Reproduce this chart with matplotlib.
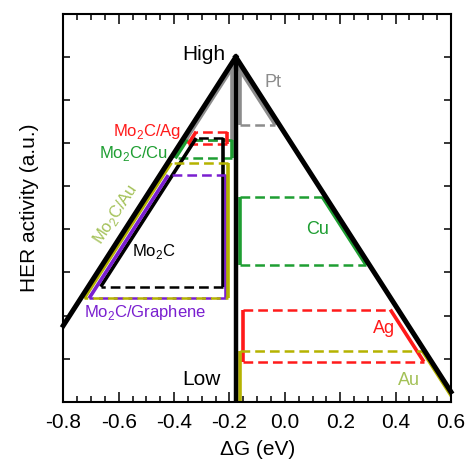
import matplotlib
matplotlib.use('Agg')
import matplotlib.pyplot as plt
import numpy as np

plt.rcParams['font.family'] = ['Liberation Sans', 'DejaVu Sans']
plt.rcParams['mathtext.fontset'] = 'custom'
plt.rcParams['mathtext.rm'] = 'Liberation Sans'
plt.rcParams['lines.scale_dashes'] = False

# volcano apex and slope
peak_x = -0.177
peak_y = 8.0
slope = 10.0

# regions: vertical boundary, activity range, which flank of the volcano, inset from the big line
region_names = ['Pt_left', 'Pt', 'Mo2C/Cu', 'Mo2C/Ag', 'Mo2C', 'Mo2C/Graphene', 'Mo2C/Au',
                'Cu', 'Ag', 'Au']
region_xv = [-0.192, -0.162, -0.192, -0.208, -0.222, -0.214, -0.204, -0.162, -0.150, -0.162]
region_ylo = [6.07, 6.42, 5.65, 5.98, 2.67, 2.40, 2.40, 3.17, 0.93, 0.0]
region_yhi = [7.9, 7.85, 6.08, 6.27, 6.12, 5.26, 5.55, 4.76, 2.14, 1.18]
region_side = [-1, 1, -1, -1, -1, -1, -1, 1, 1, 1]
region_inset = [0.012, 0.015, 0.016, 0.030, 0.045, 0.030, 0.012, 0.012, 0.028, 0.008]
region_color = ['#8c8c8c', '#8c8c8c', '#1e9e32', '#ff1a1a', '#000000', '#7a1fd0', '#b5b300',
                '#1e9e32', '#ff1a1a', '#b5b300']


def flank_x(y, side, inset):
    return peak_x + side * ((peak_y - y) / slope - inset)


fig = plt.figure(figsize=(4.69, 4.65), dpi=100)
ax = fig.add_axes([0.135, 0.136, 0.8265, 0.834])

dash = (7, 3.6)
for name, xv, ylo, yhi, side, ins, c in zip(region_names, region_xv, region_ylo, region_yhi,
                                             region_side, region_inset, region_color):
    xs_hi = flank_x(yhi, side, ins)
    xs_lo = flank_x(ylo, side, ins)
    # solid edges
    ax.plot([xv, xv], [ylo, yhi], color=c, lw=2.6, solid_capstyle='butt')
    ax.plot([xs_hi, xs_lo], [yhi, ylo], color=c, lw=2.6, solid_capstyle='butt')
    # dashed activity bounds
    dash_off = 5 if name == 'Mo2C/Au' else 0
    ax.plot([xv, xs_hi], [yhi, yhi], color=c, lw=1.8, dashes=dash)
    if ylo > 0:
        ax.plot([xv, xs_lo], [ylo, ylo], color=c, lw=1.8, linestyle=(dash_off, dash))

# big volcano
x_left = np.array([-0.8, peak_x])
x_right = np.array([peak_x, 0.6])
ax.plot(x_left, peak_y - slope * (peak_x - x_left), color='black', lw=3.6,
        solid_joinstyle='miter', clip_on=False)
ax.plot(x_right, peak_y - slope * (x_right - peak_x), color='black', lw=3.6, clip_on=False)
ax.plot([peak_x, peak_x], [0, peak_y], color='black', lw=3.2)

# labels
ax.text(-0.214, 7.93, 'High', fontsize=15, ha='right', va='baseline')
ax.text(-0.232, 0.39, 'Low', fontsize=15, ha='right', va='baseline')
ax.text(-0.072, 7.31, 'Pt', fontsize=13, color='#8c8c8c', ha='left', va='baseline')
ax.text(-0.3735, 6.27, 'Mo$_\\mathregular{2}$C/Ag', fontsize=12, color='#ff1a1a',
        ha='right', va='center')
ax.text(-0.422, 5.77, 'Mo$_\\mathregular{2}$C/Cu', fontsize=12, color='#1e9e32',
        ha='right', va='center')
ax.text(-0.61, 4.35, 'Mo$_\\mathregular{2}$C/Au', fontsize=12, color='#a3c157',
        ha='center', va='center', rotation=57)
ax.text(-0.4735, 3.48, 'Mo$_\\mathregular{2}$C', fontsize=12, color='black',
        ha='center', va='center')
ax.text(-0.503, 2.06, 'Mo$_\\mathregular{2}$C/Graphene', fontsize=12, color='#7a1fd0',
        ha='center', va='center')
ax.text(0.119, 3.99, 'Cu', fontsize=13, color='#1e9e32', ha='center', va='center')
ax.text(0.358, 1.71, 'Ag', fontsize=13, color='#ff1a1a', ha='center', va='center')
ax.text(0.448, 0.50, 'Au', fontsize=13, color='#a3c157', ha='center', va='center')

ax.set_xlim(-0.8, 0.6)
ax.set_ylim(0, 9)
ax.set_xticks(np.arange(-0.8, 0.61, 0.2))
ax.set_xticks(np.arange(-0.8, 0.61, 0.05), minor=True)
ax.set_xticklabels(['-0.8', '-0.6', '-0.4', '-0.2', '0.0', '0.2', '0.4', '0.6'])
ax.set_yticks(np.arange(0, 10, 1))
ax.set_yticklabels([])
ax.tick_params(axis='x', which='major', direction='in', length=7, width=1.1,
               top=True, labelsize=15, pad=8)
ax.tick_params(axis='x', which='minor', direction='in', length=4, width=1.1, top=True)
ax.tick_params(axis='y', which='major', direction='in', length=5, width=1.1, right=True)
for sp in ax.spines.values():
    sp.set_linewidth(1.5)

ax.set_xlabel('ΔG (eV)', fontsize=15, labelpad=6)
ax.set_ylabel('HER activity (a.u.)', fontsize=15, labelpad=14)

fig.savefig('out.png', dpi=100)
